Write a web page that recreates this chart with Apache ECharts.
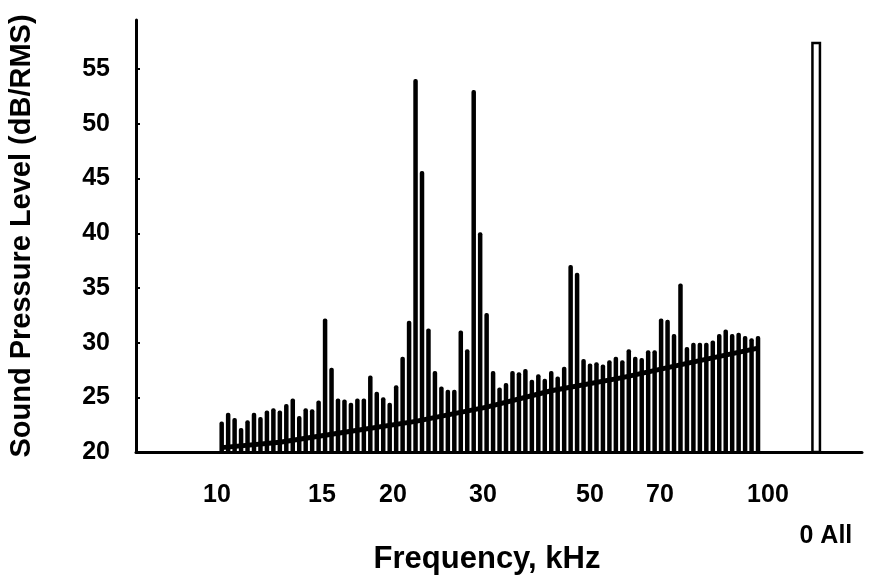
<!DOCTYPE html>
<html><head><meta charset="utf-8">
<script src="https://cdn.jsdelivr.net/npm/echarts@6/dist/echarts.min.js"></script>
<style>html,body{margin:0;padding:0;background:#fff}#c{width:876px;height:576px}</style>
</head><body><div id="c"></div>
<script>
// Sound pressure level of each frequency bin, 10 kHz ... 100 kHz (84 bins, left to right)
const binLevels = [
  22.8, 23.6, 23.1, 22.2, 22.9, 23.6, 23.2, 23.8, 24.0, 23.8,
  24.4, 24.9, 23.3, 24.0, 23.9, 24.7, 32.2, 27.7, 24.9, 24.8,
  24.5, 24.9, 24.9, 27.0, 25.5, 25.0, 24.5, 26.1, 28.7, 32.0,
  54.1, 45.7, 31.3, 27.4, 26.0, 25.7, 25.7, 31.1, 29.4, 53.1,
  40.1, 32.7, 27.4, 25.9, 26.3, 27.4, 27.3, 27.6, 26.6, 27.1,
  26.7, 27.4, 26.9, 27.8, 37.1, 36.4, 28.5, 28.1, 28.2, 28.0,
  28.4, 28.7, 28.4, 29.4, 28.7, 28.6, 29.3, 29.3, 32.2, 32.1,
  30.8, 35.4, 29.6, 30.0, 30.0, 30.0, 30.2, 30.8, 31.2, 30.8,
  30.9, 30.6, 30.4, 30.6
];
// overall ("All") level and its slot on the bin axis
const allLevel = 57.5;
const allSlot = 92;
// noise floor (thick line), sampled at these bins
const floorBins   = [0,    9,    20,   30,   41,   51,   62,   72,   83];
const floorLevels = [20.4, 20.9, 21.9, 22.8, 24.1, 25.6, 26.8, 28.1, 29.5];
// frequency tick labels and the bin positions they sit under
const freqLabels = ['10', '15', '20', '30', '50', '70', '100'];
const freqLabelSlots = [-0.73, 15.52, 26.5, 40.44, 57.0, 67.83, 84.54];
const allLabel = '0 All';
const allLabelSlot = 93.5;
const yTicks = [20, 25, 30, 35, 40, 45, 50, 55];

const FONT = 'Liberation Sans';
const chart = echarts.init(document.getElementById('c'), null, {renderer: 'canvas'});

const xMin = -13.26, xMax = 99.09;
const labelSlots = freqLabelSlots.concat([allLabelSlot]);

chart.setOption({
  animation: false,
  backgroundColor: '#fff',
  grid: {left: 136, right: 14, top: 20, bottom: 124, containLabel: false, outerBoundsMode: 'none'},
  xAxis: [{
    type: 'value', min: xMin, max: xMax,
    axisLine: {show: true, onZero: false, lineStyle: {color: '#000', width: 3}},
    axisTick: {show: false},
    splitLine: {show: false},
    axisLabel: {
      customValues: labelSlots,
      margin: 31,
      color: '#000', fontFamily: FONT, fontWeight: 'bold', fontSize: 25,
      formatter: function (v) {
        for (let i = 0; i < freqLabelSlots.length; i++) {
          if (Math.abs(v - freqLabelSlots[i]) < 1e-6) return freqLabels[i];
        }
        if (Math.abs(v - allLabelSlot) < 1e-6) return '{low|' + allLabel + '}';
        return '';
      },
      rich: {low: {padding: [41, 0, 0, 0], color: '#000', fontFamily: FONT, fontWeight: 'bold', fontSize: 25}}
    },
    name: 'Frequency, kHz', nameLocation: 'middle', nameGap: 92, nameMoveOverlap: false,
    nameTextStyle: {color: '#000', fontFamily: FONT, fontWeight: 'bold', fontSize: 31, padding: [0, 24, 0, 0]}
  }, {
    type: 'value', min: xMin, max: xMax, show: false
  }],
  yAxis: {
    type: 'value', min: 20, max: 59.5,
    axisLine: {show: true, onZero: false, lineStyle: {color: '#000', width: 3}},
    axisTick: {show: true, inside: true, length: 4, customValues: yTicks.slice(1), lineStyle: {color: '#000', width: 2}},
    splitLine: {show: false},
    axisLabel: {
      customValues: yTicks, margin: 26,
      color: '#000', fontFamily: FONT, fontWeight: 'bold', fontSize: 25
    },
    name: 'Sound Pressure Level (dB/RMS)', nameLocation: 'middle', nameGap: 100, nameMoveOverlap: false,
    nameTextStyle: {color: '#000', fontFamily: FONT, fontWeight: 'bold', fontSize: 29}
  },
  series: [{
    type: 'bar', xAxisIndex: 0,
    data: binLevels.map((v, i) => [i, v]),
    barWidth: 4.5,
    itemStyle: {color: '#000', borderRadius: [2, 2, 0, 0]}
  }, {
    type: 'bar', xAxisIndex: 1,
    data: [[allSlot, allLevel]],
    barWidth: 10,
    itemStyle: {color: '#fff', borderColor: '#000', borderWidth: 2.5}
  }, {
    type: 'line', xAxisIndex: 0, z: 5,
    data: floorBins.map((b, i) => [b, floorLevels[i]]),
    symbol: 'none',
    lineStyle: {color: '#000', width: 5}
  }]
});
</script>
</body></html>
